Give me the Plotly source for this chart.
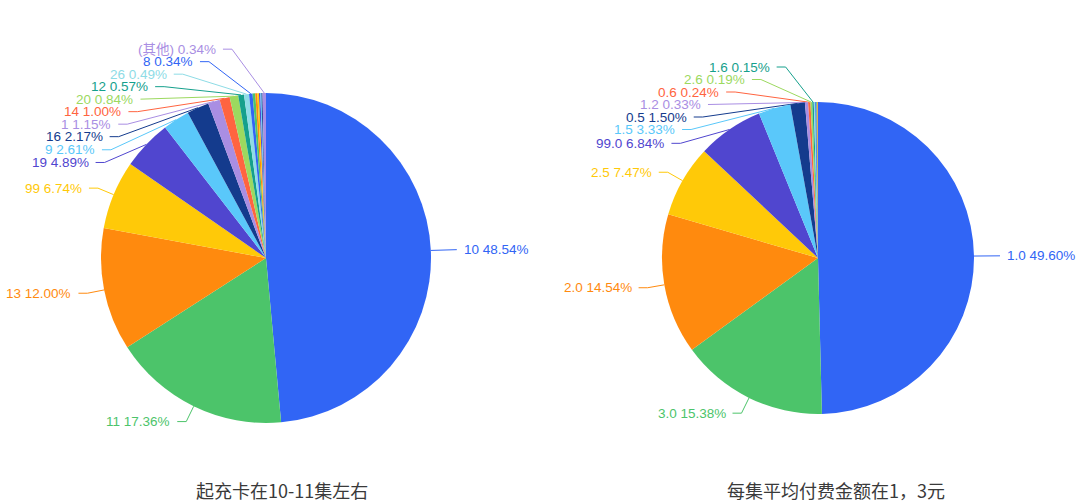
import math
import plotly.graph_objects as go

W, H = 1080, 502

# ---------------- data ----------------
left_labels = ["10", "11", "13", "99", "19", "9", "16", "1", "14", "20", "12", "26", "8",
               "2", "3", "4", "5", "6", "7", "(其他)"]
left_values = [48.54, 17.36, 12.00, 6.74, 4.89, 2.61, 2.17, 1.15, 1.00, 0.84, 0.57, 0.49, 0.34,
               0.26, 0.20, 0.16, 0.13, 0.11, 0.10, 0.34]
left_title = "起充卡在10-11集左右"

right_labels = ["1.0", "3.0", "2.0", "2.5", "99.0", "1.5", "0.5", "1.2", "0.6", "2.6", "1.6",
                "0.8", "1.8", "2.8", "3.5"]
right_values = [49.60, 15.38, 14.54, 7.47, 6.84, 3.33, 1.50, 0.33, 0.24, 0.19, 0.15,
                0.14, 0.12, 0.10, 0.07]
right_title = "每集平均付费金额在1，3元"

# ---------------- style ----------------
PALETTE = ["#3165F5", "#4CC46A", "#FF8A0E", "#FFC908", "#5046CF", "#5AC8FA",
           "#143B8D", "#A98EE3", "#FF6440", "#9CD95F", "#15A08C", "#8EDCE6"]
LABEL_FONT = "Liberation Sans, Arial, Noto Sans CJK SC"
LABEL_SIZE = 13.5
LEN, LEN2, GAP = 17, 9, 6
H_LABEL = 12.5

PIES = [
    dict(labels=left_labels, values=left_values, title=left_title,
         cx=266, cy=258, r=165, min_val=0.3, title_x=282),
    dict(labels=right_labels, values=right_values, title=right_title,
         cx=818, cy=258, r=156, min_val=0.15, title_x=836),
]
TITLE_Y = 490


def shift_side(lst, h, top, bottom):
    n = len(lst)

    def shift_up(end, delta):
        for j in range(end, -1, -1):
            if lst[j]['y'] - delta < top:
                break
            lst[j]['y'] -= delta
            if j > 0 and lst[j]['y'] > lst[j - 1]['y'] + h:
                break

    def shift_down(start, end, delta):
        for j in range(start, end):
            if lst[j]['y'] + delta > bottom:
                break
            lst[j]['y'] += delta
            if j > start and j + 1 < end and lst[j + 1]['y'] > lst[j]['y'] + h:
                shift_up(j, delta / 2)
                return
        shift_up(end - 1, delta / 2)

    last = 0
    for i in range(n):
        d = lst[i]['y'] - last
        if d < 0:
            shift_down(i, n, -d)
        last = lst[i]['y'] + h
    if bottom - last < 0:
        shift_up(n - 1, last - bottom)


def label_layout(values, labels, cx, cy, r, min_val):
    total = sum(values)
    items = []
    acc = 0.0
    for i, (v, lab) in enumerate(zip(values, labels)):
        a0 = acc / total
        acc += v
        a1 = acc / total
        if v < min_val:
            continue
        mid = (a0 + a1) / 2 * 2 * math.pi
        ux, uy = math.sin(mid), -math.cos(mid)
        items.append(dict(
            idx=i, text=f"{lab} {v / total * 100:.2f}%",
            side=1 if ux >= 0 else -1,
            p1=(cx + r * ux, cy + r * uy),
            nx=cx + (r + LEN) * ux, ny=cy + (r + LEN) * uy,
            y=cy + (r + LEN) * uy))
    rA = r + LEN
    for side in (-1, 1):
        lst = sorted([it for it in items if it['side'] == side], key=lambda t: t['y'])
        if not lst:
            continue
        shift_side(lst, H_LABEL, 0, H)
        for upper in (True, False):
            semi = [it for it in lst if (it['y'] < cy) == upper and abs(it['y'] - it['ny']) > 0.5]
            if not semi:
                continue
            rB = max(abs(it['y'] - cy) for it in semi) * 0.99
            for it in semi:
                dy = abs(it['y'] - cy)
                dx = rA * math.sqrt(max(0.035, 1 - dy * dy / (rB * rB)))
                it['x2'] = cx + side * dx
        for it in lst:
            if 'x2' not in it:
                it['x2'] = it['nx']
                it['y'] = it['ny']
    return items


fig = go.Figure()
annotations = []
for pie in PIES:
    cx, cy, r = pie['cx'], pie['cy'], pie['r']
    colors = [PALETTE[i % len(PALETTE)] for i in range(len(pie['values']))]
    fig.add_trace(go.Pie(
        labels=pie['labels'], values=pie['values'], sort=False,
        direction='clockwise', rotation=0, textinfo='none',
        marker=dict(colors=colors, line=dict(width=0)),
        domain=dict(x=[(cx - r) / W, (cx + r) / W], y=[1 - (cy + r) / H, 1 - (cy - r) / H]),
        showlegend=False, hoverinfo='label+percent'))
    for it in label_layout(pie['values'], pie['labels'], cx, cy, r, pie['min_val']):
        col = colors[it['idx']]
        x3 = it['x2'] + it['side'] * LEN2
        fig.add_trace(go.Scatter(
            x=[it['p1'][0], it['x2'], x3], y=[it['p1'][1], it['y'], it['y']],
            mode='lines', line=dict(color=col, width=1), hoverinfo='skip',
            showlegend=False))
        annotations.append(dict(
            x=x3 + it['side'] * GAP, y=it['y'], xref='x', yref='y',
            text=it['text'], showarrow=False, borderpad=0,
            xanchor='left' if it['side'] > 0 else 'right', yanchor='middle',
            font=dict(family=LABEL_FONT, size=LABEL_SIZE, color=col)))
    annotations.append(dict(
        x=pie['title_x'], y=TITLE_Y, xref='x', yref='y', text=pie['title'],
        showarrow=False, xanchor='center', yanchor='middle',
        font=dict(family="Noto Sans CJK SC", size=18, color="#3a3a3a")))

fig.update_layout(
    width=W, height=H, margin=dict(l=0, r=0, t=0, b=0),
    paper_bgcolor='white', plot_bgcolor='white',
    xaxis=dict(range=[0, W], visible=False, fixedrange=True),
    yaxis=dict(range=[H, 0], visible=False, fixedrange=True),
    annotations=annotations, showlegend=False)

fig.write_html("out.html", config={"displayModeBar": False},
               post_script="document.body.style.margin='0px';document.body.style.overflow='hidden';")
